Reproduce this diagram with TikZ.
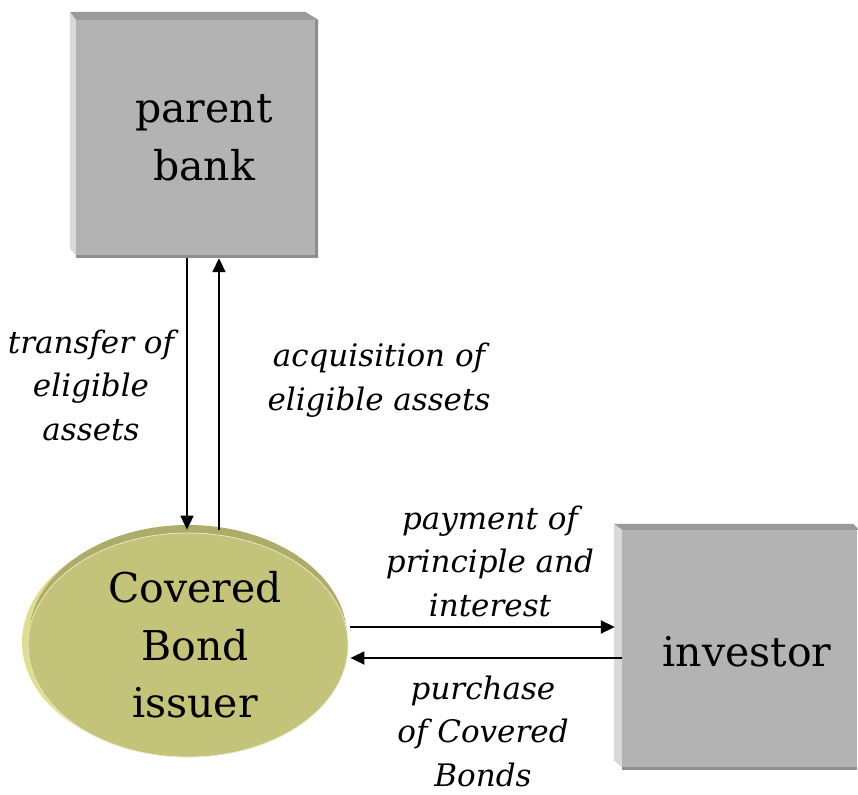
\documentclass[tikz,border=0pt]{standalone}
\usepackage{fontspec}
\setmainfont{DejaVu Serif}
\usetikzlibrary{arrows.meta,shapes.geometric}
\definecolor{boxgray}{HTML}{B3B3B3}
\definecolor{boxtop}{HTML}{9A9A9A}
\definecolor{boxleft}{HTML}{D9D9D9}
\definecolor{boxdark}{HTML}{8E8E8E}
\definecolor{olivefront}{HTML}{C3C37A}
\definecolor{olivetop}{HTML}{ADAC68}
\definecolor{oliveleft}{HTML}{DEDE8E}
\newcommand{\bigtext}{\fontsize{41}{57.5}\selectfont}
\newcommand{\labtext}{\fontsize{31}{43.5}\selectfont\itshape}
\tikzset{
  box/.style={rectangle, fill=boxgray, inner sep=0pt, align=center, font=\bigtext},
  issuer/.style={ellipse, fill=olivefront, inner sep=0pt, align=center, font=\bigtext},
  lab/.style={align=center, font=\labtext, inner sep=0pt},
  arr/.style={line width=1.8pt, -{Triangle[length=14pt,width=13pt]}},
}
\begin{document}
\begin{tikzpicture}[x=1pt,y=-1pt]
\useasboundingbox (0,0) rectangle (858,794);
% parent bank
\node[box, minimum width=239pt, minimum height=235pt] (parent) at (195.5,137.5) {};
\fill[boxtop] ([xshift=-6pt,yshift=8pt]parent.north west) -- ([xshift=-10pt,yshift=8pt]parent.north east) -- ([xshift=3pt]parent.north east) -- (parent.north west) -- cycle;
\fill[boxleft] ([xshift=-6pt,yshift=8pt]parent.north west) -- (parent.north west) -- (parent.south west) -- ([xshift=-6pt,yshift=7pt]parent.south west) -- cycle;
\fill[boxdark] (parent.north east) -- ([xshift=3pt]parent.north east) -- ([xshift=3pt,yshift=-3pt]parent.south east) -- (parent.south east) -- cycle;
\fill[boxdark] (parent.south west) -- ([xshift=3pt]parent.south east) -- ([xshift=3pt,yshift=-3pt]parent.south east) -- ([yshift=-3pt]parent.south west) -- cycle;
\node[font=\bigtext, align=center, inner sep=0pt] (parenttext) at (204,138) {parent\\bank};
% investor
\node[box, minimum width=235pt, minimum height=237pt] (inv) at (739.5,648.5) {};
\fill[boxtop] ([xshift=-8pt,yshift=6pt]inv.north west) -- ([xshift=-4pt,yshift=6pt]inv.north east) -- ([xshift=2pt]inv.north east) -- (inv.north west) -- cycle;
\fill[boxleft] ([xshift=-8pt,yshift=6pt]inv.north west) -- (inv.north west) -- (inv.south west) -- ([xshift=-8pt,yshift=7pt]inv.south west) -- cycle;
\fill[boxdark] (inv.south west) -- (inv.south east) -- ([yshift=-3pt]inv.south east) -- ([yshift=-3pt]inv.south west) -- cycle;
\node[font=\bigtext, inner sep=0pt] (invtext) at (747,652) {investor};
% issuer ellipse
\node[issuer, fill=oliveleft, minimum width=320pt, minimum height=224pt] (cbleft) at (182,642) {};
\node[issuer, fill=olivetop, minimum width=318pt, minimum height=224pt] (cbtop) at (188,637) {};
\node[issuer, draw=white!60!olivefront, line width=0.8pt, minimum width=320pt, minimum height=224pt] (cb) at (188,645) {};
\node[font=\bigtext, align=center, inner sep=0pt] (cbtext) at (195,645) {Covered\\Bond\\issuer};
% vertical arrows
\draw[arr] ([xshift=-8.5pt,yshift=-3pt]parent.south) -- ([xshift=-1pt,yshift=3pt]cb.north);
\draw[arr] ([xshift=31pt,yshift=3pt]cb.north) -- ([xshift=23.5pt,yshift=-3pt]parent.south);
% horizontal arrows
\draw[arr] ([xshift=2pt,yshift=18pt]cb.east) -- ([xshift=-7pt,yshift=21.5pt]inv.west);
\draw[arr] ([yshift=-9.5pt]inv.west) -- ([xshift=2pt,yshift=-13pt]cb.east);
% labels
\node[lab] (l1) at (91,385) {transfer of\\eligible\\assets};
\node[lab] (l2) at (379,380) {acquisition of\\eligible assets};
\node[lab] (l3) at (490,561) {payment of\\principle and\\interest};
\node[lab] (l4) at (483,731) {purchase\\of Covered\\Bonds};
\end{tikzpicture}
\end{document}
